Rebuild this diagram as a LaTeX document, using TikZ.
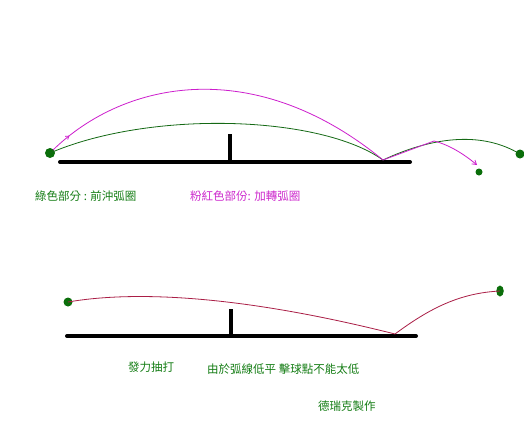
\documentclass[tikz,border=0pt]{standalone}
\usepackage{fontspec}
\newfontfamily\cjk{Noto Sans CJK TC}
\usetikzlibrary{arrows.meta,decorations.markings,shapes.geometric}
\definecolor{ballgreen}{RGB}{10,110,10}
\definecolor{linegreen}{RGB}{20,105,20}
\definecolor{pinkline}{RGB}{205,30,205}
\definecolor{textgreen}{RGB}{20,125,20}
\definecolor{textpink}{RGB}{205,40,205}
\definecolor{redline}{RGB}{170,30,70}
\tikzset{
  ball/.style={circle,fill=ballgreen,draw=none,inner sep=0pt,minimum size=#1},
  tableline/.style={line width=4pt,line cap=round,black},
  netline/.style={line width=3.5pt,black},
  greenarc/.style={draw=linegreen,line width=0.8pt},
  pinkarc/.style={draw=pinkline,line width=0.8pt},
  redarc/.style={draw=redline,line width=0.8pt},
  lbl/.style={font=\cjk\fontsize{11.5}{13}\selectfont,inner sep=0pt,anchor=west},
}
\begin{document}
\begin{tikzpicture}[x=1pt,y=-1pt]
\useasboundingbox (0,0) rectangle (524,440);
\fill[white] (0,0) rectangle (524,440);
% ---------- top diagram ----------
\coordinate (t1L) at (60,162);
\coordinate (t1R) at (410,162);
\coordinate (n1T) at (230,134);
\coordinate (n1B) at (230,162);
\coordinate (b1) at (383,160);
\coordinate (p1) at (434,141);
\draw[tableline] (t1L) -- (t1R);
\draw[netline] (n1T) -- (n1B);
\node[ball=10pt] (gL) at (50,153) {};
\node[ball=7pt] (gS) at (479,172) {};
\node[ball=9pt] (gR) at (520,154) {};
\coordinate (pS) at (53,150);
\coordinate (pE) at (477,165);
% green: forward loop
\draw[greenarc] (gL.center) .. controls (150,110) and (320,115) .. (b1)
  .. controls (430,138) and (480,130) .. (gR.center);
% pink: heavy topspin loop
\draw[pinkarc,postaction={decorate},
  decoration={markings,mark=at position 0.06 with {\arrow{Straight Barb[length=3pt,width=4pt]}}}]
  (pS) .. controls (125,80) and (255,55) .. (b1);
\draw[pinkarc,-{Straight Barb[length=4pt,width=5pt]}] (b1) -- (p1)
  .. controls (450,145) and (465,155) .. (pE);
\node[lbl,text=textgreen] (lg) at (35,196) {綠色部分 : 前沖弧圈};
\node[lbl,text=textpink] (lp) at (190,196) {粉紅色部份: 加轉弧圈};
% ---------- bottom diagram ----------
\coordinate (t2L) at (67,336);
\coordinate (t2R) at (416,336);
\coordinate (n2T) at (231,309);
\coordinate (n2B) at (231,336);
\coordinate (b2) at (395,334);
\draw[tableline] (t2L) -- (t2R);
\draw[netline] (n2T) -- (n2B);
\node[circle,fill=ballgreen,inner sep=0pt,minimum size=9pt] (hL) at (68,302) {};
\node[ellipse,fill=ballgreen,inner sep=0pt,minimum width=7.5pt,minimum height=11pt] (hR) at (500,291) {};
\draw[redarc] (hL.center) .. controls (120,293) and (220,290) .. (b2)
  .. controls (430,308) and (460,293) .. (hR.center);
\node[lbl,text=textgreen] (l1) at (128,367) {發力抽打};
\node[lbl,text=textgreen] (l2) at (207,369) {由於弧線低平 擊球點不能太低};
\node[lbl,text=textgreen] (l3) at (318,406) {德瑞克製作};
\end{tikzpicture}
\end{document}
